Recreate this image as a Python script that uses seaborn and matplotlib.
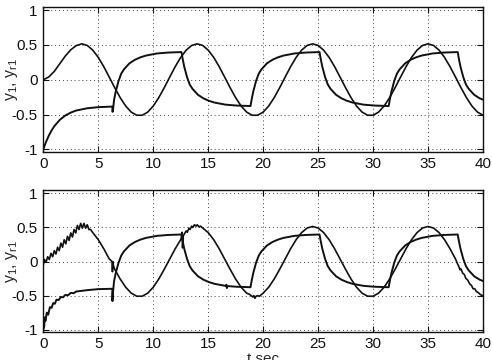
import numpy as np
import pandas as pd
import matplotlib
matplotlib.use("Agg")
import matplotlib.pyplot as plt
import seaborn as sns

# ---------------- data ----------------
x_ticks = [0, 5, 10, 15, 20, 25, 30, 35, 40]
y_ticks = [-1, -0.5, 0, 0.5, 1]
y_tick_labels = ["-1", "-0.5", "0", "0.5", "1"]

# smooth oscillating signal (top panel), sampled every 0.5 s from 0 to 40
s_time = [i * 0.5 for i in range(81)]
s_top = [0.0, 0.04, 0.12, 0.23, 0.34, 0.43, 0.49, 0.515, 0.492, 0.425,
         0.321, 0.188, 0.038, -0.115, -0.258, -0.378, -0.464, -0.509, -0.509, -0.464,
         -0.378, -0.258, -0.115, 0.038, 0.188, 0.321, 0.425, 0.492, 0.515, 0.492,
         0.425, 0.321, 0.188, 0.038, -0.115, -0.258, -0.378, -0.464, -0.509, -0.509,
         -0.464, -0.378, -0.258, -0.115, 0.038, 0.188, 0.321, 0.425, 0.492, 0.515,
         0.492, 0.425, 0.321, 0.188, 0.038, -0.115, -0.258, -0.378, -0.464, -0.509,
         -0.509, -0.464, -0.378, -0.258, -0.115, 0.038, 0.188, 0.321, 0.425, 0.492,
         0.515, 0.492, 0.425, 0.321, 0.188, 0.038, -0.115, -0.258, -0.378, -0.464,
         -0.509]

# switching (first-order) signal, top panel
e_time = [0.00, 0.10, 0.25, 0.50, 0.75, 1.00, 1.50, 2.00, 2.50, 3.00, 4.00, 5.00, 6.28,
          6.30, 6.34, 6.44, 6.59, 6.84, 7.09, 7.34, 7.84, 8.34, 8.84, 9.34, 10.34, 11.34, 12.57,
          12.67, 12.82, 13.07, 13.32, 13.57, 14.07, 14.57, 15.07, 15.57, 16.57, 17.57, 18.85,
          18.95, 19.10, 19.35, 19.60, 19.85, 20.35, 20.85, 21.35, 21.85, 22.85, 23.85, 25.13,
          25.23, 25.38, 25.63, 25.88, 26.13, 26.63, 27.13, 27.63, 28.13, 29.13, 30.13, 31.42,
          31.52, 31.67, 31.92, 32.17, 32.42, 32.92, 33.42, 33.92, 34.42, 35.42, 36.42, 37.70,
          37.80, 37.95, 38.20, 38.45, 38.70, 39.20, 39.70, 40.00]
e_top = [-1.000, -0.954, -0.892, -0.802, -0.728, -0.667, -0.575, -0.513, -0.471, -0.441, -0.409, -0.393, -0.385,
         -0.460, -0.430, -0.286, -0.169, -0.021, 0.088, 0.150, 0.236, 0.287, 0.322, 0.347, 0.377, 0.390, 0.397,
         0.306, 0.189, 0.041, -0.068, -0.130, -0.216, -0.267, -0.302, -0.327, -0.357, -0.370, -0.377,
         -0.286, -0.169, -0.021, 0.088, 0.150, 0.236, 0.287, 0.322, 0.347, 0.377, 0.390, 0.397,
         0.306, 0.189, 0.041, -0.068, -0.130, -0.216, -0.267, -0.302, -0.327, -0.357, -0.370, -0.377,
         -0.286, -0.169, -0.021, 0.088, 0.150, 0.236, 0.287, 0.322, 0.347, 0.377, 0.390, 0.397,
         0.306, 0.189, 0.041, -0.068, -0.130, -0.216, -0.267, -0.285]

# bottom panel: noisy pieces that replace the smooth signal in some intervals
s_bot_noisy_time = [0.0, 0.1, 0.25, 0.4, 0.55, 0.7, 0.85, 1.0, 1.15, 1.3, 1.45, 1.6, 1.75, 1.9, 2.05,
                    2.2, 2.35, 2.5, 2.65, 2.8, 2.95, 3.1, 3.25, 3.4, 3.55, 3.7, 3.85, 4.0, 4.15, 4.3,
                    6.2, 6.27, 6.29, 6.32, 6.38,
                    12.57, 12.63, 12.67, 12.72, 12.85, 13.0, 13.1, 13.25, 13.35, 13.5, 13.6, 13.75,
                    13.9, 14.0, 14.15, 14.3,
                    18.75, 18.9, 19.05, 19.15, 19.25, 19.35, 19.5, 19.65, 19.8,
                    37.7, 37.8, 37.9, 38.0, 38.15, 38.3, 38.45, 38.6, 38.8, 38.95, 39.1, 39.25,
                    39.4, 39.6, 39.8, 40.0]
s_bot_noisy = [-0.05, 0.03, -0.01, 0.07, 0.03, 0.12, 0.07, 0.16, 0.11, 0.21, 0.16, 0.27, 0.21, 0.32, 0.26,
               0.37, 0.31, 0.42, 0.36, 0.47, 0.42, 0.53, 0.47, 0.56, 0.49, 0.56, 0.49, 0.54, 0.47, 0.47,
               0.01, -0.01, -0.15, 0.0, -0.06,
               0.36, 0.43, 0.20, 0.37, 0.41, 0.45, 0.43, 0.49, 0.47, 0.52, 0.50, 0.54,
               0.52, 0.54, 0.51, 0.52,
               -0.48, -0.50, -0.52, -0.50, -0.54, -0.51, -0.50, -0.51, -0.49,
               -0.04, -0.07, -0.12, -0.11, -0.17, -0.19, -0.25, -0.27, -0.33, -0.35, -0.40, -0.40,
               -0.44, -0.46, -0.49, -0.50]
s_bot_replaced = [(0.0, 4.35), (6.1, 6.45), (12.55, 14.45), (18.7, 19.9), (37.6, 40.0)]

e_bot_noisy_time = [0.0, 0.08, 0.13, 0.2, 0.32, 0.45, 0.6, 0.75, 0.9, 1.05, 1.2, 1.4, 1.6, 1.8,
                    2.0, 2.25, 2.5, 2.75, 3.0, 4.0, 5.0, 6.28, 6.29, 6.33, 6.36,
                    16.62, 16.66, 16.70, 16.74]
e_bot_noisy = [-1.0, -0.96, -0.82, -0.87, -0.75, -0.78, -0.67, -0.68, -0.61, -0.62, -0.56, -0.565, -0.52, -0.525,
               -0.49, -0.495, -0.46, -0.465, -0.44, -0.42, -0.405, -0.40, -0.58, -0.45, -0.42,
               -0.36, -0.34, -0.39, -0.36]
e_bot_replaced = [(0.0, 6.36)]


def merge(base_t, base_v, new_t, new_v, ranges):
    base = pd.DataFrame({"t": base_t, "v": base_v})
    keep = np.ones(len(base), dtype=bool)
    for a, b in ranges:
        keep &= ~((base["t"] >= a) & (base["t"] <= b))
    df = pd.concat([base[keep], pd.DataFrame({"t": new_t, "v": new_v})])
    return df.sort_values("t", kind="stable").reset_index(drop=True)


top_s = pd.DataFrame({"t": s_time, "v": s_top})
top_e = pd.DataFrame({"t": e_time, "v": e_top})
bot_s = merge(s_time, s_top, s_bot_noisy_time, s_bot_noisy, s_bot_replaced)
bot_e = merge(e_time, e_top, e_bot_noisy_time, e_bot_noisy, e_bot_replaced)

# ---------------- styling ----------------
sns.set_style("ticks")
plt.rcParams["font.family"] = ["Liberation Sans", "DejaVu Sans"]
plt.rcParams["mathtext.fontset"] = "custom"
plt.rcParams["mathtext.rm"] = "Liberation Sans"
plt.rcParams["mathtext.it"] = "Liberation Sans"
plt.rcParams["mathtext.sf"] = "Liberation Sans"

fig = plt.figure(figsize=(4.92, 3.6), dpi=100)
ax1 = fig.add_axes([0.088, 0.579, 0.8937, 0.4028])
ax2 = fig.add_axes([0.088, 0.0786, 0.8937, 0.3936])

for ax, ds, de in [(ax1, top_s, top_e), (ax2, bot_s, bot_e)]:
    sns.lineplot(data=ds, x="t", y="v", ax=ax, color="#111111", lw=1.2,
                 sort=False, estimator=None)
    sns.lineplot(data=de, x="t", y="v", ax=ax, color="#111111", lw=1.4,
                 sort=False, estimator=None)
    ax.set_xlim(0, 40)
    ax.set_ylim(-1.03, 1.05)
    ax.set_xticks(x_ticks)
    ax.set_xticklabels([str(v) for v in x_ticks])
    ax.set_yticks(y_ticks)
    ax.set_yticklabels(y_tick_labels)
    ax.grid(True, linestyle=(0, (1, 3)), linewidth=0.7, color="#444444")
    ax.tick_params(direction="in", top=True, right=True, length=4, width=0.8,
                   labelsize=11, pad=4, colors="#111111")
    for sp in ax.spines.values():
        sp.set_visible(True)
        sp.set_linewidth(1.0)
        sp.set_color("#111111")
    ax.set_ylabel("y$_1$, y$_{r1}$", fontsize=11.5)
    ax.yaxis.set_label_coords(-0.054, 0.5)
    ax.set_xlabel("")

ax2.set_xlabel("t sec", fontsize=11)
ax2.xaxis.set_label_coords(0.5, -0.145)

fig.savefig("out.png", dpi=100)
